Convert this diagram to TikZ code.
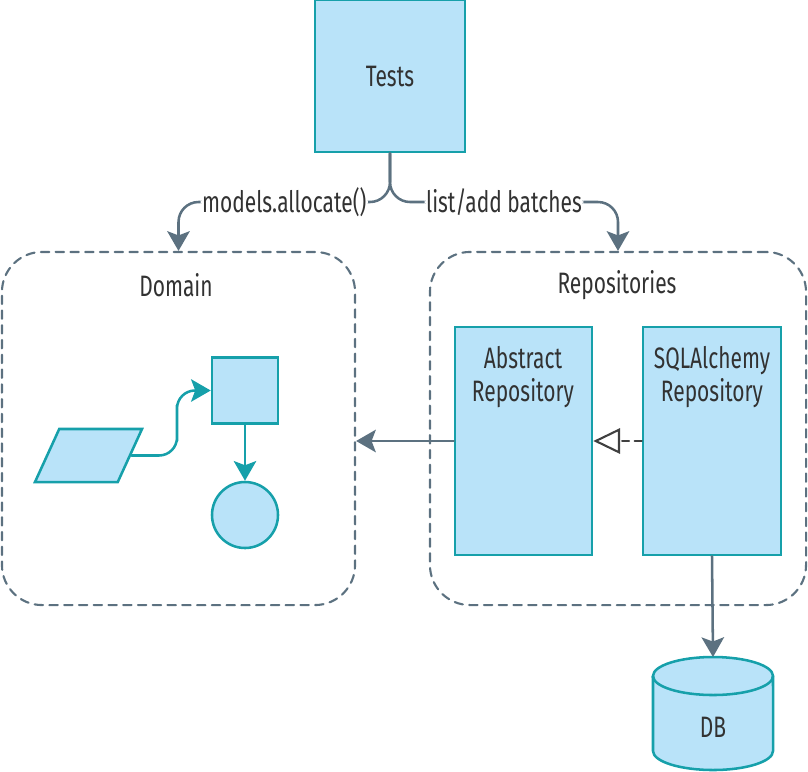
\documentclass[tikz,border=0pt]{standalone}
\usepackage{fontspec}
\setmainfont{Fira Sans}[FakeStretch=0.71]
\usetikzlibrary{shapes.geometric}
\usetikzlibrary{arrows.meta}
\usetikzlibrary{positioning}

\begin{document}
\begin{tikzpicture}
			[x=0.025cm,y=-0.025cm,line cap=round,
			%Styles
			every node/.style={font=\fontsize{21}{24}\selectfont,text=ink},
			box/.style={draw=boxline,fill=boxfill,line width=1.8pt,inner sep=0pt},
			group/.style={draw=flowgray,line width=1.5pt,dash pattern=on 6pt off 4.5pt,rounded corners=1cm,inner sep=0pt},
			flow/.style={draw=flowgray,line width=1.8pt,-{Stealth[length=14pt,width=16pt,inset=3pt]}},
			tealflow/.style={draw=boxline,line width=1.8pt,-{Stealth[length=14pt,width=16pt,inset=3pt]}},
			implements/.style={draw=darkline,line width=1.5pt,dash pattern=on 5pt off 4pt,-{Triangle[open,length=19pt,width=18pt]}},
			label text/.style={fill=white,inner sep=1pt},
			dbend/.style={x radius=1.5cm,y radius=0.475cm}
			]
			
			%Colors
			\colorlet{boxfill}{rgb,255:red,185;green,227;blue,249}
			\colorlet{boxline}{rgb,255:red,22;green,160;blue,170}
			\colorlet{flowgray}{rgb,255:red,92;green,113;blue,128}
			\colorlet{darkline}{rgb,255:red,64;green,64;blue,64}
			\colorlet{ink}{rgb,255:red,50;green,50;blue,50}
			
			\useasboundingbox (0,0) rectangle (808,771);
			
			%The graphic
			\node [box,minimum width=3.75cm,minimum height=3.8cm] (tests) at (390,76) {Tests};
			
			\node [group,minimum width=8.825cm,minimum height=8.825cm] (domain) at (178.5,428.5) {};
			\node [group,minimum width=9.4cm,minimum height=8.825cm] (repos) at (618,428.5) {};
			\node (domainlbl) at (176,285) {Domain};
			\node (reposlbl) at (617,285) {Repositories};
			
			\coordinate (split) at (390,202);
			\draw[flow,rounded corners=0.5cm] (tests.south) -- (split) -| node[pos=0.25,label text] {models.allocate()} (domain.north);
			\draw[flow,rounded corners=0.5cm] (tests.south) -- (split) -| node[pos=0.25,label text] {list/add batches} (repos.north);
			
			% repositories
			\node [box,minimum width=3.425cm,minimum height=5.7cm] (abstract) at (523.5,441) {};
			\node [align=center] (abstractlbl) at (523,377) {Abstract\\Repository};
			\node [box,minimum width=3.45cm,minimum height=5.7cm] (sqla) at (712,441) {};
			\node [align=center] (sqlalbl) at (712,377) {SQLAlchemy\\Repository};
			
			\draw[implements] (sqla.west) -- (abstract.east);
			\draw[flow] (abstract.west) -- (abstract.west -| domain.east);
			
			% domain model
			\node [box,trapezium,inner sep=2pt,trapezium left angle=67.5,trapezium right angle=112.5,trapezium stretches=true,minimum width=2.675cm,minimum height=1.325cm] (para) at (88.5,455.5) {};
			\node [box,minimum size=1.65cm] (square) at (245,390.5) {};
			\node [box,circle,minimum size=1.65cm] (circ) at (245,515) {};
			\coordinate (bend) at (177,423);
			\draw[tealflow,rounded corners=0.45cm] (para.east) -| (bend) |- (square.west);
			\draw[tealflow] (square.south) -- (circ.north);
			
			% database
			\filldraw[box] (653,676) -- (653,751) arc[start angle=180,end angle=360,dbend] -- (773,676) arc[start angle=0,end angle=180,dbend] -- cycle;
			\draw[box,fill=none] (653,676) arc[start angle=180,end angle=360,dbend];
			\coordinate (dbtop) at (713,657);
			\node (db) at (713,727) {DB};
			\draw[flow] (sqla.south) -- (dbtop);
		\end{tikzpicture}
\end{document}
